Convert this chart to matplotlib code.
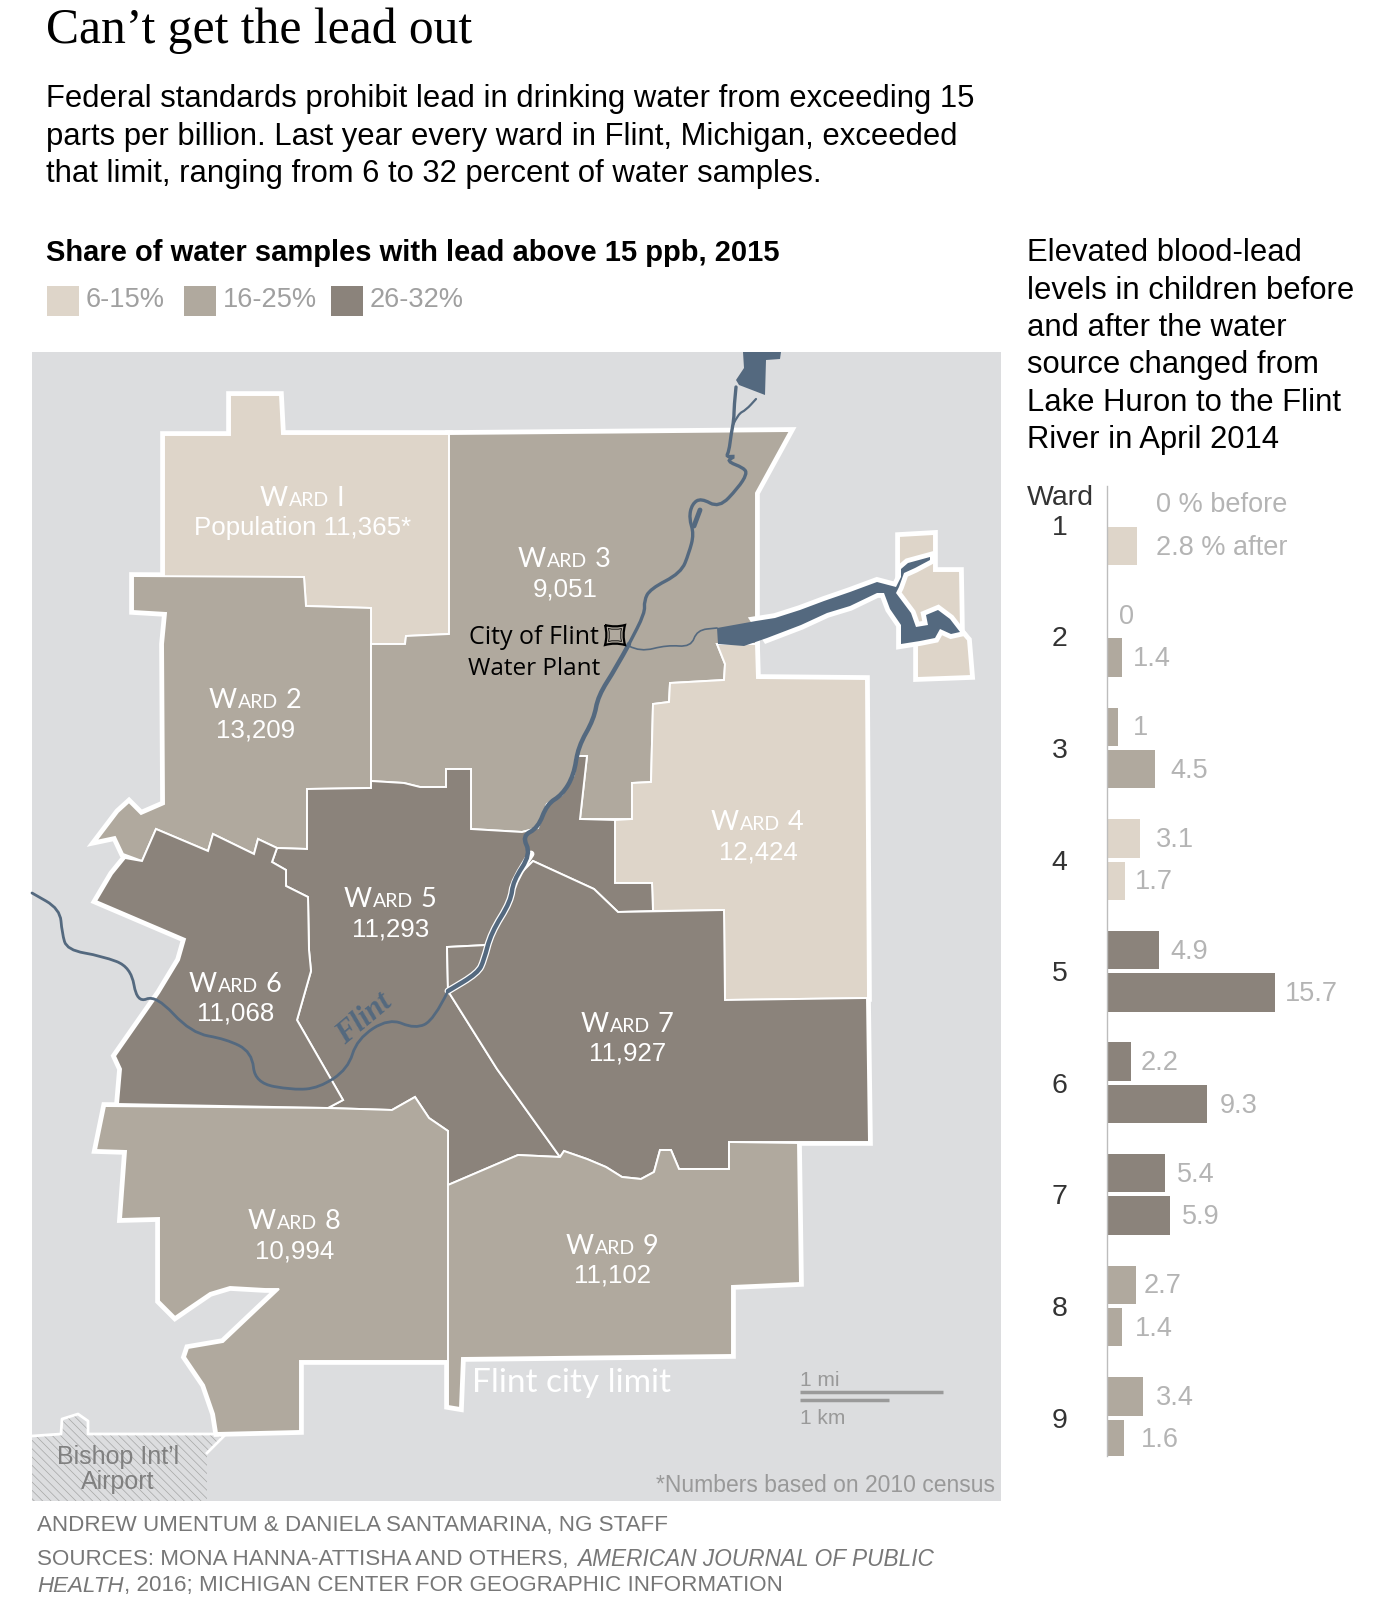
import matplotlib
matplotlib.use('Agg')
import matplotlib.pyplot as plt
from matplotlib.patches import Polygon, Rectangle, PathPatch
from matplotlib.path import Path

# colours
LIGHT = '#DED5C9'
MID = '#B0A99E'
DARK = '#8B837B'
BG = '#DCDDDF'
WATER = '#54697F'
GREY = '#B4B4B4'

SANS = 'Liberation Sans'
CAPS = 'Lato'

ward1 = [(164, 435), (230, 435), (230, 395), (280, 395), (282, 434), (449, 434), (449, 634), (406, 636),
         (405, 644), (371, 644), (371, 608), (306, 606), (304, 577), (164, 577)]
ward2 = [(133, 576), (304, 577), (306, 606), (371, 608), (371, 788), (307, 789), (307, 849), (277, 848),
         (258, 839), (254, 854), (213, 834), (208, 851), (156, 829), (142, 861), (123, 854), (115, 837),
         (96, 841), (118, 812), (129, 802), (141, 814), (164, 804), (163, 644), (166, 613), (133, 611)]
ward3 = [(449, 434), (790, 431), (756, 493), (756, 644), (717, 644), (725, 664), (724, 680), (670, 683),
         (669, 702), (653, 704), (651, 782), (632, 783), (632, 819), (580, 819), (587, 756), (576, 756),
         (574, 775), (562, 795), (547, 804), (538, 828), (522, 832), (471, 829), (471, 769), (446, 769),
         (446, 787), (420, 787), (404, 783), (371, 781), (371, 644), (405, 644), (406, 636), (449, 634)]
ward4 = [(756, 644), (757, 678), (866, 679), (868, 998), (725, 1000), (724, 910), (653, 911), (652, 883),
         (615, 883), (615, 820), (632, 819), (632, 783), (651, 782), (653, 704), (669, 702), (670, 683),
         (724, 680), (725, 664), (717, 644)]
ward4_east = [(899, 536), (934, 534), (934, 571), (960, 571), (961, 632), (968, 640), (971, 676), (917, 678),
              (917, 640), (899, 600)]
ward5 = [(371, 788), (371, 781), (404, 783), (420, 787), (446, 787), (446, 769), (471, 769), (471, 829),
         (522, 832), (538, 828), (547, 804), (562, 795), (574, 775), (576, 756), (587, 756), (580, 819),
         (615, 820), (615, 883), (652, 883), (653, 911), (618, 912), (594, 889), (533, 861), (513, 881),
         (511, 901), (491, 933), (487, 945), (447, 947), (448, 991), (497, 1069), (560, 1157), (518, 1155),
         (448, 1185), (448, 1131), (429, 1118), (415, 1097), (392, 1110), (328, 1108), (343, 1100),
         (297, 1020), (311, 971), (309, 950), (308, 897), (286, 886), (286, 870), (272, 862), (277, 848),
         (307, 849), (307, 789)]
ward6 = [(156, 829), (208, 851), (213, 834), (254, 854), (258, 839), (277, 848), (272, 862), (286, 870),
         (286, 886), (308, 897), (309, 950), (311, 971), (297, 1020), (343, 1100), (328, 1108), (118, 1104),
         (121, 1069), (115, 1056), (159, 993), (179, 960), (185, 939), (96, 901), (112, 874), (125, 858),
         (142, 861)]
ward7 = [(533, 861), (594, 889), (618, 912), (724, 910), (725, 1000), (867, 998), (869, 1142), (729, 1142),
         (729, 1169), (679, 1169), (671, 1150), (660, 1150), (654, 1172), (641, 1179), (622, 1177),
         (606, 1167), (587, 1159), (564, 1151), (560, 1157), (497, 1069), (448, 991), (447, 947), (487, 945),
         (491, 933), (511, 901), (513, 881)]
ward8 = [(105, 1106), (328, 1108), (392, 1110), (415, 1097), (429, 1118), (448, 1131), (448, 1361),
         (300, 1361), (300, 1431), (217, 1433), (214, 1414), (204, 1385), (185, 1357), (188, 1348),
         (223, 1342), (279, 1289), (265, 1289), (230, 1287), (210, 1293), (188, 1308), (175, 1317),
         (159, 1301), (159, 1218), (121, 1219), (126, 1151), (96, 1150)]
ward9 = [(448, 1185), (518, 1155), (560, 1157), (564, 1151), (587, 1159), (606, 1167), (622, 1177),
         (641, 1179), (654, 1172), (660, 1150), (671, 1150), (679, 1169), (729, 1169), (729, 1142),
         (798, 1143), (800, 1283), (732, 1286), (732, 1355), (462, 1358), (460, 1408), (448, 1406)]
airport = [(32, 1436), (61, 1434), (62, 1419), (78, 1414), (88, 1421), (88, 1434), (226, 1434), (207, 1453),
           (207, 1501), (32, 1501)]

# water
lake = [(717, 628), (756, 621), (775, 618), (800, 610), (824, 601), (850, 592), (877, 582), (896, 587), (901, 577),
        (901, 569), (908, 563), (930, 557), (930, 560), (915, 568), (904, 573), (899, 587), (896, 593), (911, 613),
        (916, 627), (928, 625), (926, 615), (938, 610), (950, 619), (960, 632), (951, 634), (940, 629),
        (935, 638), (920, 641), (901, 644), (901, 625), (890, 609), (884, 593), (877, 593), (850, 606),
        (827, 613), (801, 625), (767, 638), (744, 646), (718, 644)]
reservoir = [(743, 352), (781, 352), (780, 359), (766, 360), (765, 395), (739, 385), (736, 380), (744, 368)]
river_north = [(736, 387), (734, 407), (734, 419), (731, 435), (729, 451), (726, 457), (736, 456), (726, 461),
               (744, 468), (747, 474), (738, 488), (719, 508), (701, 498), (692, 504), (689, 518), (694, 534),
               (689, 553), (681, 573), (650, 589), (644, 601), (645, 613), (629, 644)]
river_branch = [(733, 425), (738, 414), (746, 410), (756, 399)]
river_blob = [(700, 510), (694, 526)]
river_mid = [(629, 644), (616, 668), (598, 696), (594, 719), (578, 747), (574, 775), (562, 795), (547, 804),
             (538, 828), (522, 836), (531, 854), (513, 881), (511, 901), (491, 933), (484, 960), (478, 973),
             (448, 991)]
river_south = [(448, 991), (434, 1020), (415, 1029), (389, 1018), (357, 1039), (348, 1069), (319, 1088),
               (293, 1090), (255, 1083), (252, 1052), (226, 1039), (191, 1033), (156, 995), (137, 1003),
               (131, 967), (102, 956), (67, 950), (62, 933), (60, 909), (32, 893)]
tributary = [(629, 646), (640, 652), (667, 645), (691, 647), (697, 630), (717, 628)]

ward_fills = [(ward1, LIGHT), (ward2, MID), (ward3, MID), (ward4, LIGHT), (ward4_east, LIGHT), (ward5, DARK),
              (ward6, DARK), (ward7, DARK), (ward8, MID), (ward9, MID)]

ward_labels = ['1', '2', '3', '4', '5', '6', '7', '8', '9']
ward_numerals = ['I', '2', '3', '4', '5', '6', '7', '8', '9']
ward_pops = ['Population 11,365*', '13,209', '9,051', '12,424', '11,293', '11,068', '11,927', '10,994', '11,102']
ward_centres = [(303, 497), (256, 699), (565, 558), (758, 821), (391, 898), (236, 983), (628, 1023),
                (295, 1220), (613, 1245)]

# blood-lead levels, percent
before = [0, 0, 1, 3.1, 4.9, 2.2, 5.4, 2.7, 3.4]
after = [2.8, 1.4, 4.5, 1.7, 15.7, 9.3, 5.9, 1.4, 1.6]
before_text = ['0 % before', '0', '1', '3.1', '4.9', '2.2', '5.4', '2.7', '3.4']
after_text = ['2.8 % after', '1.4', '4.5', '1.7', '15.7', '9.3', '5.9', '1.4', '1.6']
bar_colors = [LIGHT, MID, MID, LIGHT, DARK, DARK, DARK, MID, MID]
before_gap = [49, 12, 15, 16, 11, 10, 12, 8, 13]
after_gap = [19, 11, 15, 10, 10, 13, 12, 13, 17]

plt.rcParams['hatch.linewidth'] = 0.5

W, H = 1390, 1618
fig = plt.figure(figsize=(W / 100, H / 100), dpi=100, facecolor='white')
ax = fig.add_axes([0, 0, 1, 1])
ax.set_xlim(0, W)
ax.set_ylim(H, 0)
ax.axis('off')


def text(x, y, s, size, color='black', ha='left', **kw):
    kw.setdefault('family', SANS)
    return ax.text(x, y, s, fontsize=size, color=color, ha=ha, va='center', **kw)


def small_caps(cx, cy, num):
    # W + small ARD + big numeral, centred on cx
    parts = [('W', 19.5), ('ARD', 14), ('\u00a0' + num, 19.5)]
    r = fig.canvas.get_renderer()
    items = []
    total = 0
    for s, size in parts:
        t = ax.text(0, cy, s, fontsize=size, color='white', family=CAPS, va='baseline', ha='left', zorder=8)
        w = t.get_window_extent(r).width
        items.append((t, w))
        total += w + 1
    x = cx - total / 2
    for t, w in items:
        t.set_position((x, cy + 9))
        x += w + 1


def stream(pts, color, lw, z):
    # quadratic curves through the traced points so the river doesn't look angular
    verts = [pts[0]]
    codes = [Path.MOVETO]
    for a, b in zip(pts[1:-1], pts[2:]):
        verts += [a, ((a[0] + b[0]) / 2, (a[1] + b[1]) / 2)]
        codes += [Path.CURVE3, Path.CURVE3]
    verts.append(pts[-1])
    codes.append(Path.LINETO)
    ax.add_patch(PathPatch(Path(verts, codes), fc='none', ec=color, lw=lw, capstyle='round', zorder=z))


def plant_icon(cx, cy, r, lw):
    # square with bowed-in sides
    d = r * 0.72
    verts = [(cx - r, cy - r), (cx, cy - d), (cx + r, cy - r), (cx + d, cy), (cx + r, cy + r), (cx, cy + d),
             (cx - r, cy + r), (cx - d, cy), (cx - r, cy - r)]
    codes = [Path.MOVETO] + [Path.CURVE3] * 8
    ax.add_patch(PathPatch(Path(verts, codes), fc='none', ec='black', lw=lw, zorder=8))


# title and intro
text(45.5, 31, 'Can\u2019t get the lead out', 35.7, family='Liberation Serif')
text(45.5, 99, 'Federal standards prohibit lead in drinking water from exceeding 15', 22.3)
text(45.5, 136.5, 'parts per billion. Last year every ward in Flint, Michigan, exceeded', 22.3)
text(45.5, 174, 'that limit, ranging from 6 to 32 percent of water samples.', 22.3)
text(45.5, 253, 'Share of water samples with lead above 15 ppb, 2015', 21, weight='bold')

# legend
for x0, c, s in [(47, LIGHT, '6-15%'), (184, MID, '16-25%'), (331, DARK, '26-32%')]:
    ax.add_patch(Rectangle((x0, 286), 32, 30, fc=c, ec='none'))
    text(x0 + 39, 300, s, 19.6, color='#A0A0A0')

# map background
ax.add_patch(Rectangle((32, 352), 969, 1149, fc=BG, ec='none', zorder=0))
ax.add_patch(Polygon(airport, closed=True, fc=BG, ec='#A6A6A6', hatch='\\\\\\\\', lw=0, zorder=1))
ax.plot([p[0] for p in airport[:8]], [p[1] for p in airport[:8]], color='white', lw=2, zorder=1.5)

# thick halo makes the city limit, thin line on top makes the inner borders
for pts, c in ward_fills:
    ax.add_patch(Polygon(pts, closed=True, fc='white', ec='white', lw=5.5, joinstyle='miter', zorder=2))
for pts, c in ward_fills:
    ax.add_patch(Polygon(pts, closed=True, fc=c, ec='white', lw=1.4, zorder=3))

# water
ax.add_patch(Polygon(lake[1:-2], closed=True, fc='white', ec='white', lw=7, zorder=4))
ax.add_patch(Polygon(lake, closed=True, fc=WATER, ec='none', zorder=5))
ax.add_patch(Polygon(reservoir, closed=True, fc=WATER, ec='none', zorder=5))
stream(river_north, WATER, 2.4, 5)
stream(river_branch, WATER, 1.6, 5)
stream(river_blob, WATER, 3.5, 5)
stream(river_mid[10:], 'white', 5, 4.5)
stream(river_mid, WATER, 3.2, 5)
stream(river_south, WATER, 2, 5)
stream(tributary, WATER, 1.2, 5)

# ward names
fig.canvas.draw()
for (cx, cy), num, pop in zip(ward_centres, ward_numerals, ward_pops):
    small_caps(cx, cy, num)
    text(cx, cy + 31, pop, 18.6, color='white', ha='center', zorder=8)

# map notes
text(534, 637, 'City of Flint', 18, family='Open Sans', ha='center', zorder=8)
text(534, 669, 'Water Plant', 17.5, family='Open Sans', ha='center', zorder=8)
plant_icon(615, 635, 10, 1.6)
plant_icon(615, 635, 6.5, 0.6)
text(364, 1019, 'Flint', 22, color=WATER, ha='center', family='Liberation Serif', style='italic', weight='bold',
     rotation=40, zorder=8)
text(472, 1383, 'Flint city limit', 24, color='white', family=CAPS, zorder=8)
text(800, 1381, '1 mi', 15, color='#999999', zorder=8)
ax.plot([800, 943], [1392, 1392], color='#9A9A9A', lw=2.5, solid_capstyle='butt', zorder=8)
ax.plot([800, 889], [1400, 1400], color='#9A9A9A', lw=2.5, solid_capstyle='butt', zorder=8)
text(800, 1418, '1 km', 15, color='#999999', zorder=8)
text(118, 1457, 'Bishop Int\u2019l', 18, color='#808080', ha='center', zorder=8)
text(118, 1482, 'Airport', 18, color='#808080', ha='center', zorder=8)
text(995, 1485, '*Numbers based on 2010 census', 16.5, color='#999999', ha='right', zorder=8)

# credits
text(37, 1526, 'ANDREW UMENTUM & DANIELA SANTAMARINA, NG STAFF', 16.1, color='#777777')
text(37, 1560, 'SOURCES: MONA HANNA-ATTISHA AND OTHERS, ', 16.1, color='#777777')
text(577, 1560, 'AMERICAN JOURNAL OF PUBLIC', 16.3, color='#777777', style='italic')
text(37, 1586, 'HEALTH', 16.1, color='#777777', style='italic')
text(124, 1586, ', 2016; MICHIGAN CENTER FOR GEOGRAPHIC INFORMATION', 16.1, color='#777777')

# right column
right_lines = ['Elevated blood-lead', 'levels in children before', 'and after the water',
               'source changed from', 'Lake Huron to the Flint', 'River in April 2014']
for s, y in zip(right_lines, [253, 290.5, 328, 365, 403, 440]):
    text(1027, y, s, 22.3)
text(1060, 498, 'Ward', 20.5, color='#333333', ha='center')

# bars: 10.7 px per percent, 111.6 px per ward
axb = fig.add_axes([1107 / W, 1 - 1456 / H, (W - 1107) / W, (1456 - 485.5) / H])
axb.patch.set_alpha(0)
axb.set_xlim(0, (W - 1107) / 10.7)
axb.set_ylim(8.344, -0.352)
ypos = list(range(9))
axb.barh([y - 0.19 for y in ypos], before, height=0.345, color=bar_colors)
axb.barh([y + 0.19 for y in ypos], after, height=0.345, color=bar_colors)
for i in ypos:
    axb.annotate(before_text[i], (before[i], i - 0.19), xytext=(before_gap[i] * 0.72, -1.2),
                 textcoords='offset points', va='center', color=GREY, fontsize=19.5, family=SANS)
    axb.annotate(after_text[i], (after[i], i + 0.19), xytext=(after_gap[i] * 0.72, -1.2),
                 textcoords='offset points', va='center', color=GREY, fontsize=19.5, family=SANS)
axb.set_yticks(ypos)
axb.set_yticklabels(ward_labels, fontsize=20.5, color='#333333', family=SANS)
axb.tick_params(axis='y', length=0, pad=28.5)
axb.set_xticks([])
for side in ['top', 'right', 'bottom']:
    axb.spines[side].set_visible(False)
axb.spines['left'].set_color('#BDBDBD')
axb.spines['left'].set_linewidth(1)

fig.savefig('out.png', dpi=100)
